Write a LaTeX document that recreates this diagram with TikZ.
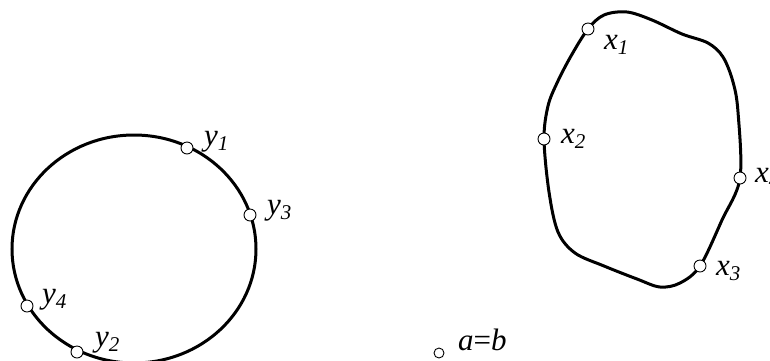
\documentclass[tikz,border=0pt]{standalone}
\usepackage{fontspec}
\setmainfont{Liberation Serif}
\usetikzlibrary{positioning}

\newcommand{\ptlab}[2]{\textit{#1}\raisebox{-0.35ex}{\fontsize{21}{21}\selectfont\textit{#2}}}

\tikzset{
  curve/.style={line width=3pt},
  pt/.style={circle,draw,fill=white,line width=0.9pt,inner sep=0pt,minimum size=12pt},
  lab/.style={font=\fontsize{31}{31}\selectfont,inner sep=0pt}
}

\begin{document}
\begin{tikzpicture}[x=1pt,y=-1pt]
\useasboundingbox (0,0) rectangle (770,360);
\clip (0,0) rectangle (770,360);
% left closed curve
\draw[curve] (134,249) ellipse [x radius=122, y radius=114];
\node[pt] (y1) at (187,148) {};
\node[pt] (y3) at (250,215) {};
\node[pt] (y4) at (27,306) {};
\node[pt] (y2) at (77,352) {};
\node[lab,anchor=west] at (204,142) {\ptlab{y}{1}};
\node[lab,anchor=west] at (267,211) {\ptlab{y}{3}};
\node[lab,anchor=west] at (42,300) {\ptlab{y}{4}};
\node[lab,anchor=west] at (95,343) {\ptlab{y}{2}};
% right closed curve
\draw[curve] plot[smooth cycle,tension=0.55] coordinates {
  (588,29) (604,15) (627,12) (652,20) (682,34) (708,43) (723,57) (733,82)
  (738,112) (740,178) (722,220) (700,266) (680,283) (660,287) (637,279)
  (604,266) (575,253) (558,232) (549,192) (544,139) (548,106) (557,83) (571,56)};
\node[pt] (x1) at (588,29) {};
\node[pt] (x2) at (544,139) {};
\node[pt] (x4) at (740,178) {};
\node[pt] (x3) at (700,266) {};
\node[lab,anchor=west] at (604,45) {\ptlab{x}{1}};
\node[lab,anchor=west] at (561,139) {\ptlab{x}{2}};
\node[lab,anchor=west] at (755,178) {\ptlab{x}{4}};
\node[lab,anchor=west] at (716,271) {\ptlab{x}{3}};
% point a=b
\node[pt,minimum size=10pt] (ab) at (439,353) {};
\node[lab,anchor=west] at (458,340) {\textit{a}=\textit{b}};
\end{tikzpicture}
\end{document}
